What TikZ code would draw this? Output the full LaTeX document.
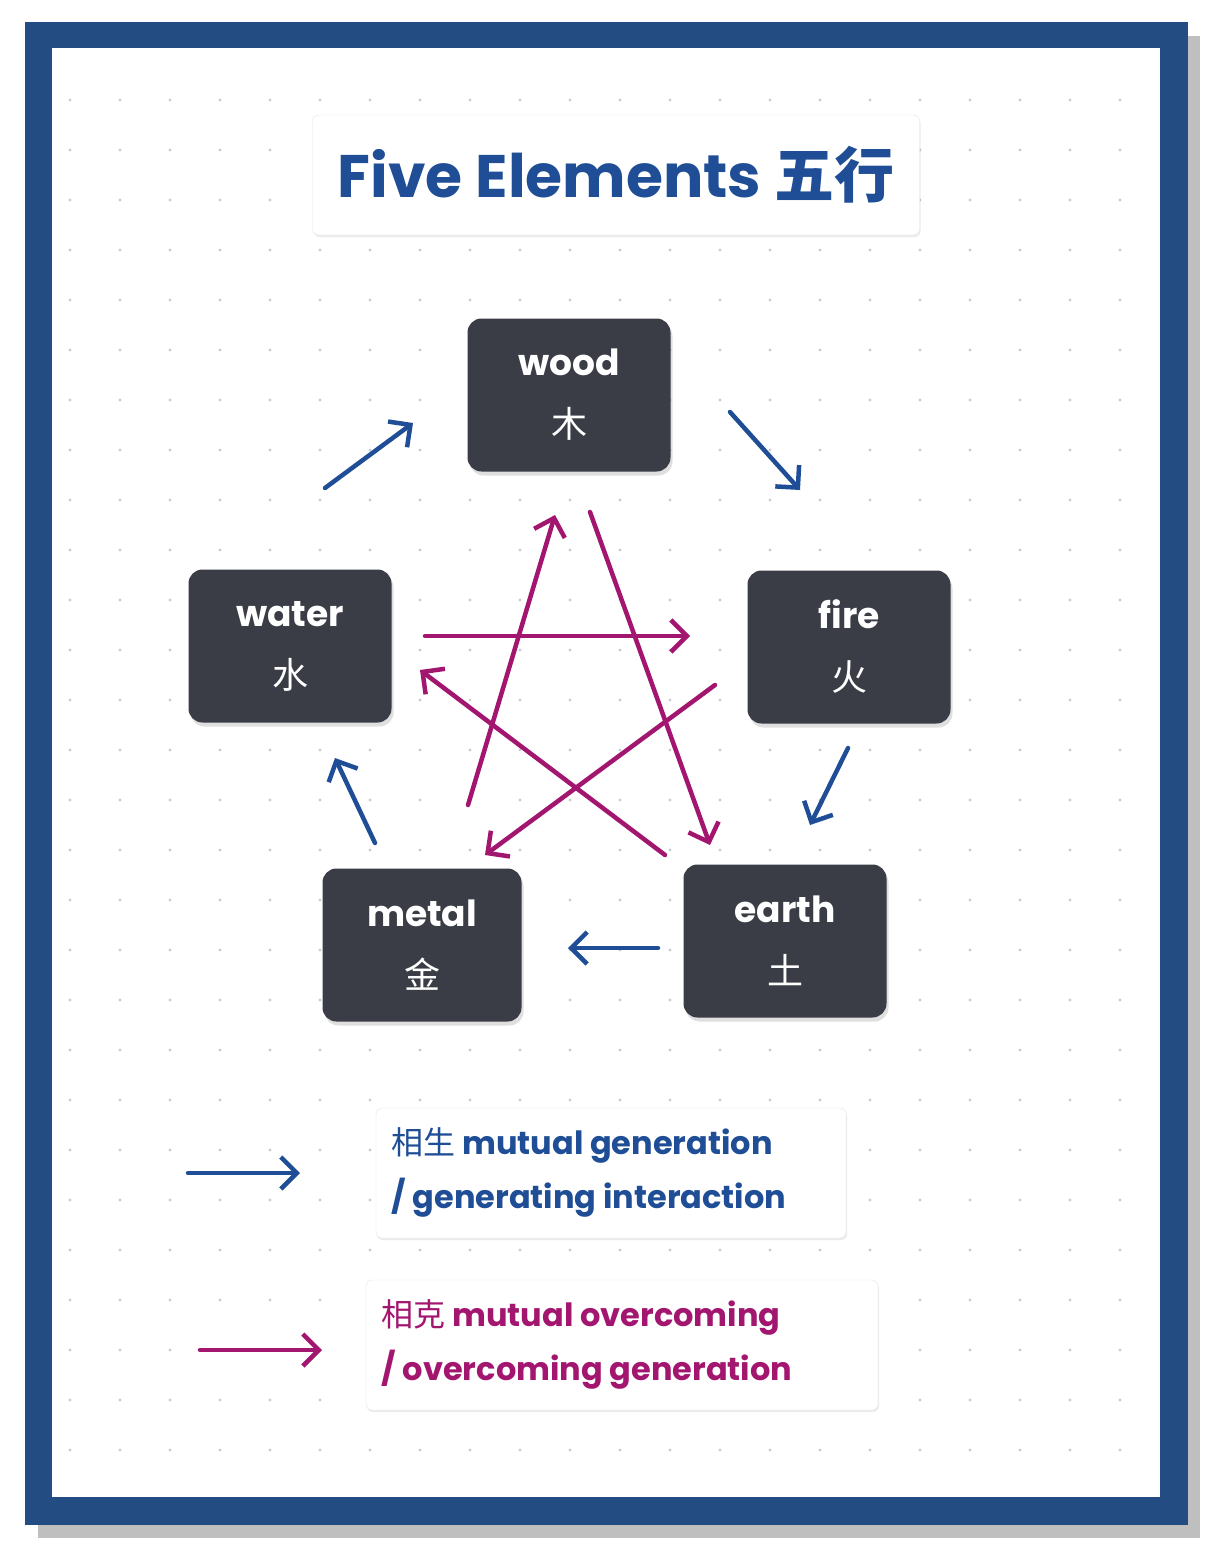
\documentclass[tikz,border=0pt]{standalone}
\usepackage{fontspec}
\setmainfont{Poppins}
\newfontfamily\cjk{Noto Sans CJK SC}
\usetikzlibrary{arrows.meta,shadows}
\definecolor{frame}{HTML}{234C82}
\definecolor{nodebg}{HTML}{3A3D45}
\definecolor{gen}{HTML}{1F4E96}
\definecolor{ovc}{HTML}{A3166F}
\definecolor{dotc}{HTML}{C8CCD2}
\begin{document}
\begin{tikzpicture}[x=1pt,y=-1pt,
  el/.style={fill=nodebg,rounded corners=14pt,minimum width=203pt,minimum height=153pt,text=white,align=center,font=\fontsize{36}{62}\selectfont\bfseries,drop shadow={shadow xshift=2pt,shadow yshift=-4pt,opacity=0.25}},
  box/.style={fill=white,draw=gray!20,rounded corners=6pt,drop shadow={shadow xshift=1pt,shadow yshift=-2pt,opacity=0.15}},
  ga/.style={draw=gen,line width=4.5pt,line cap=round,-{Straight Barb[length=16pt,width=32pt,line width=4.5pt]}},
  oa/.style={draw=ovc,line width=4.5pt,line cap=round,-{Straight Barb[length=16pt,width=32pt,line width=4.5pt]}}]
\useasboundingbox (0,0) rectangle (1212,1552);
\fill[gray!50] (38,36) rectangle (1200,1538);
\fill[frame] (25,22) rectangle (1188,1525);
\fill[white] (52,48) rectangle (1160,1497);
\foreach \x in {70,120,...,1120}{\foreach \y in {100,150,...,1450}{\fill[dotc] (\x,\y) circle (1.6pt);}}
\node[box,minimum width=607pt,minimum height=120pt] (title) at (616,175) {};
\node[text=gen,font=\fontsize{60}{70}\selectfont\bfseries] at (title) {Five Elements {\cjk 五行}};
\node[el] (wood) at (569,395) {wood\\{\cjk\mdseries 木}};
\node[el] (water) at (290,646) {water\\{\cjk\mdseries 水}};
\node[el] (fire) at (849,647) {fire\\{\cjk\mdseries 火}};
\node[el,minimum width=199pt] (metal) at (422,945) {metal\\{\cjk\mdseries 金}};
\node[el] (earth) at (785,941) {earth\\{\cjk\mdseries 土}};
\coordinate (g1a) at (325,488); \coordinate (g1b) at (413,423);
\coordinate (g2a) at (730,412); \coordinate (g2b) at (800,490);
\coordinate (g3a) at (848,748); \coordinate (g3b) at (810,825);
\coordinate (g4a) at (658,948); \coordinate (g4b) at (568,948);
\coordinate (g5a) at (375,843); \coordinate (g5b) at (335,758);
\foreach \i in {1,...,5}{\draw[ga] (g\i a) -- (g\i b);}
\coordinate (o1a) at (425,636); \coordinate (o1b) at (690,636);
\coordinate (o2a) at (715,685); \coordinate (o2b) at (485,855);
\coordinate (o3a) at (665,855); \coordinate (o3b) at (420,670);
\coordinate (o4a) at (468,805); \coordinate (o4b) at (555,515);
\coordinate (o5a) at (590,512); \coordinate (o5b) at (710,845);
\foreach \i in {1,...,5}{\draw[oa] (o\i a) -- (o\i b);}
\node[box,minimum width=470pt,minimum height=130pt] (l1) at (611,1173) {};
\node[text=gen,align=left,anchor=west,font=\fontsize{32}{54}\selectfont\bfseries] at (388,1172) {{\cjk\mdseries 相生} mutual generation\\/ generating interaction};
\node[box,minimum width=512pt,minimum height=130pt] (l2) at (622,1345) {};
\node[text=ovc,align=left,anchor=west,font=\fontsize{32}{54}\selectfont\bfseries] at (378,1344) {{\cjk\mdseries 相克} mutual overcoming\\/ overcoming generation};
\coordinate (la) at (188,1173); \coordinate (lb) at (300,1173);
\coordinate (ma) at (200,1350); \coordinate (mb) at (322,1350);
\draw[ga] (la) -- (lb);
\draw[oa] (ma) -- (mb);
\end{tikzpicture}
\end{document}
